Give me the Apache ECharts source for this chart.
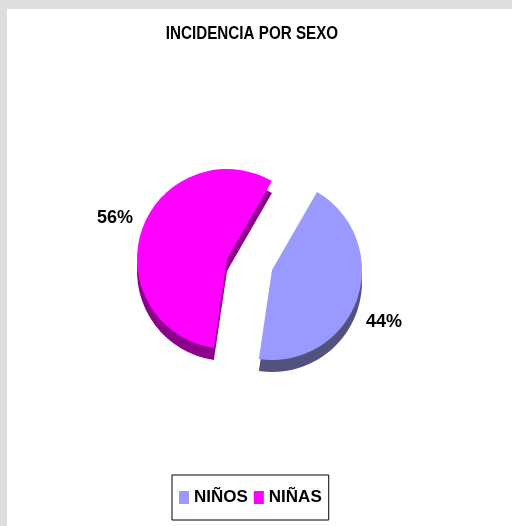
<!DOCTYPE html>
<html>
<head>
<meta charset="utf-8">
<style>
  html, body { margin: 0; padding: 0; background: #dedede; }
  #chart { width: 512px; height: 526px; }
</style>
<script src="https://cdn.jsdelivr.net/npm/echarts@6/dist/echarts.min.js"></script>
</head>
<body>
<div id="chart"></div>
<script>
// Incidence by sex, share of cases in percent
const categories = ['NIÑOS', 'NIÑAS'];
const shares = [44, 56];
const topColors = ['#9999ff', '#ff00ff'];
const sideColors = ['#52527f', '#8c008c'];
const chartTitle = 'INCIDENCIA POR SEXO';

const FONT = '"Liberation Sans", Arial, sans-serif';

const RADIUS = 90;
const DEPTH = 12;
const START = 60;
// each slice is pulled out of the pie to its own apex
const apex = [[272, 270], [227, 259]];
const labelShift = [[0, 22], [0, -11]];

function sliceSeries(k, isSide) {
  const c = apex[k];
  return {
    name: (isSide ? 'side-' : 'top-') + categories[k],
    type: 'pie',
    z: isSide ? 2 : 3,
    center: [c[0], isSide ? c[1] + DEPTH : c[1]],
    radius: [0, RADIUS],
    startAngle: START,
    clockwise: true,
    avoidLabelOverlap: false,
    silent: true,
    labelLine: { show: false, length: 0, length2: 4 },
    data: categories.map((name, i) => ({
      name: name,
      value: shares[i],
      itemStyle: i === k
        ? { color: (isSide ? sideColors : topColors)[i], borderWidth: 0 }
        : { color: 'transparent', borderWidth: 0 },
      label: (i === k && !isSide) ? {
        show: true,
        position: 'outside',
        formatter: p => p.value + '%',
        offset: labelShift[k],
        fontFamily: FONT,
        fontWeight: 'bold',
        fontSize: 18,
        color: '#000'
      } : { show: false }
    }))
  };
}

const series = [];
categories.forEach((_, k) => series.push(sliceSeries(k, false)));
categories.forEach((_, k) => series.push(sliceSeries(k, true)));

const chart = echarts.init(document.getElementById('chart'), null, { renderer: 'canvas' });

chart.setOption({
  animation: false,
  backgroundColor: '#dedede',
  graphic: [
    {
      type: 'rect',
      z: -10,
      silent: true,
      shape: { x: 7, y: 9, width: 505, height: 517 },
      style: { fill: '#ffffff' }
    },
    {
      // narrow bold heading
      type: 'text',
      x: 252,
      y: 34,
      scaleX: 0.8,
      silent: true,
      style: {
        text: chartTitle,
        fill: '#000',
        font: 'bold 19px ' + FONT,
        textAlign: 'center',
        textVerticalAlign: 'middle'
      }
    }
  ],
  legend: {
    data: categories.map((name, i) => ({ name: name, itemStyle: { color: topColors[i], opacity: 1 } })),
    left: 172,
    top: 475,
    orient: 'horizontal',
    icon: 'rect',
    itemWidth: 10,
    itemHeight: 13,
    itemGap: 6,
    padding: [14, 7, 14, 7],
    borderColor: '#000',
    borderWidth: 1,
    borderRadius: 0,
    selectedMode: false,
    textStyle: { fontFamily: FONT, fontWeight: 'bold', fontSize: 17, color: '#000' }
  },
  series: series
});
</script>
</body>
</html>
